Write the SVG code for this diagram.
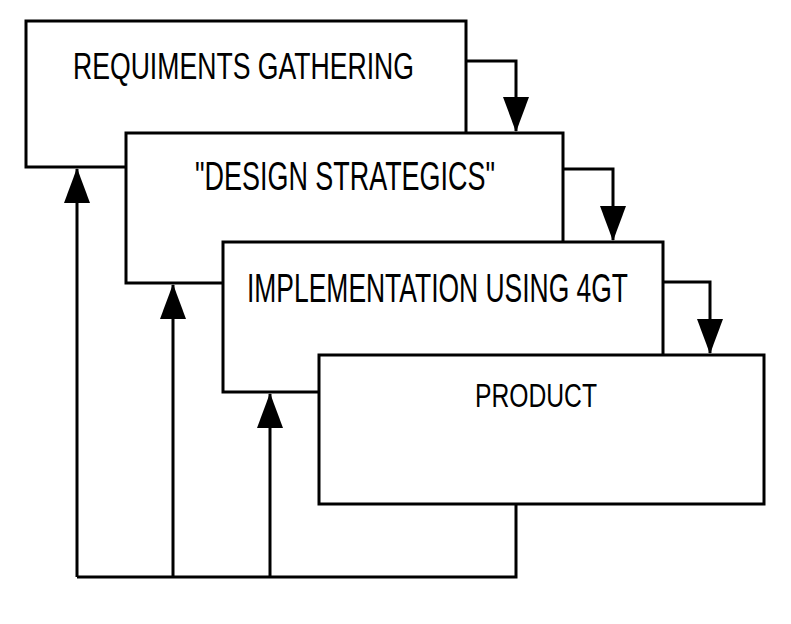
<svg xmlns="http://www.w3.org/2000/svg" width="791" height="624" viewBox="0 0 791 624">
<defs>
<style>
.box{fill:#fff;stroke:#000;stroke-width:3;stroke-linejoin:miter}
.lbl{font-family:"Liberation Sans",Arial,sans-serif;fill:#000;text-anchor:start}
.con{fill:none;stroke:#000;stroke-width:3;marker-end:url(#ah)}
.line{fill:none;stroke:#000;stroke-width:3}
</style>
<marker id="ah" markerUnits="userSpaceOnUse" viewBox="0 0 35 26" refX="34" refY="13" markerWidth="35" markerHeight="26" orient="auto">
<path d="M0,0 L35,13 L0,26 Z" fill="#000"/>
</marker>
</defs>
<rect width="791" height="624" fill="#fff"/>
<g id="node-requirements">
<path class="box" d="M126,167 H26 V21 H466 V133"/>
<text class="lbl" transform="translate(73,79) scale(1,1.4)" x="0" y="0" font-size="26.45" textLength="341" lengthAdjust="spacingAndGlyphs">REQUIMENTS GATHERING</text>
</g>
<g id="node-design">
<path class="box" d="M223,283 H126 V133 H563 V242"/>
<text class="lbl" transform="translate(195,190) scale(1,1.53)" x="0" y="0" font-size="26.76" textLength="300" lengthAdjust="spacingAndGlyphs">"DESIGN STRATEGICS"</text>
</g>
<g id="node-implementation">
<path class="box" d="M319,392 H223 V242 H663 V355"/>
<text class="lbl" transform="translate(247,302) scale(1,1.53)" x="0" y="0" font-size="26.2" textLength="381" lengthAdjust="spacingAndGlyphs">IMPLEMENTATION USING 4GT</text>
</g>
<g id="node-product">
<rect class="box" x="319" y="355" width="445" height="149"/>
<text class="lbl" transform="translate(475,407) scale(1,1.34)" x="0" y="0" font-size="24.7" textLength="122" lengthAdjust="spacingAndGlyphs">PRODUCT</text>
</g>
<g id="connectors">
<path class="con" d="M466,61 H516 V131"/>
<path class="con" d="M563,169 H613 V240"/>
<path class="con" d="M663,282 H710 V353"/>
<path class="line" d="M516,504 V577 H77"/>
<path class="con" d="M77,577 V169"/>
<path class="con" d="M173,577 V285"/>
<path class="con" d="M270,577 V394"/>
</g>
</svg>
